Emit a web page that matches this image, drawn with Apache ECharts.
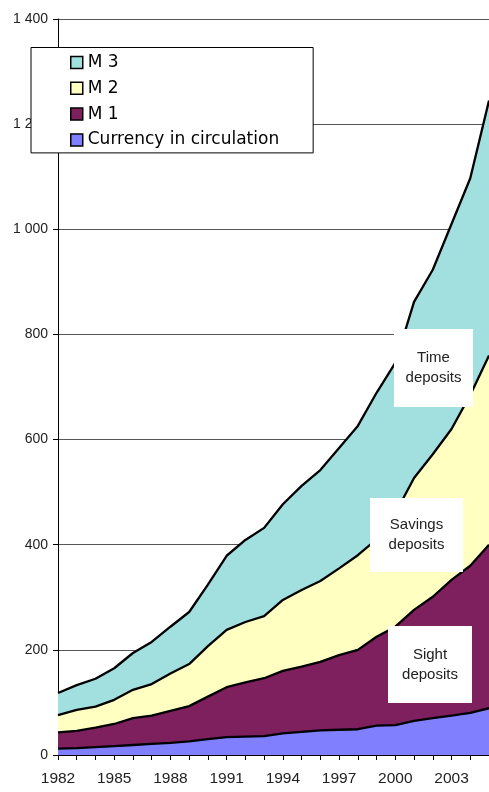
<!DOCTYPE html>
<html>
<head>
<meta charset="utf-8">
<script src="https://cdn.jsdelivr.net/npm/echarts@6/dist/echarts.min.js"></script>
<style>
html,body{margin:0;padding:0;background:#fff;}
#chart{width:489px;height:792px;}
</style>
</head>
<body>
<div id="chart"></div>
<script>
const years = ['1982','1983','1984','1985','1986','1987','1988','1989','1990','1991','1992','1993','1994','1995','1996','1997','1998','1999','2000','2001','2002','2003','2004','2005'];
const currency = [12,13,15,17,19,21,23,26,30,34,35,36,41,44,47,48,49,56,57,65,70,75,80,89];
const m1 = [43,46,52,59,70,75,84,93,111,129,138,146,160,168,177,190,200,225,244,276,301,333,360,400];
const m2 = [76,86,92,105,124,135,155,173,207,238,253,264,295,314,331,355,380,410,460,527,572,620,685,760];
const m3 = [118,133,145,165,194,215,244,272,324,379,409,432,477,512,542,584,626,689,746,862,923,1010,1097,1245];
const seriesNames = ['M 3','M 2','M 1','Currency in circulation'];
const annotations = [
  {text:'Time\ndeposits', box:[394,329,79,78]},
  {text:'Savings\ndeposits', box:[370,498,93,74]},
  {text:'Sight\ndeposits', box:[388,626,84,77]}
];

const colors = ['#A2E0E0','#FFFFC2','#7E1F5E','#8080FF'];
const values = [m3, m2, m1, currency];

const chart = echarts.init(document.getElementById('chart'), null, {renderer:'canvas'});

const series = seriesNames.map((n,i)=>({
  name:n,
  type:'line',
  data:values[i],
  showSymbol:false,
  symbol:'none',
  z:2+i,
  itemStyle:{color:colors[i]},
  lineStyle:{color:'#000',width:2.3},
  areaStyle:{color:colors[i],opacity:1,origin:'start'},
  emphasis:{disabled:true},
  animation:false
}));

const graphic = [];
annotations.forEach(a=>{
  graphic.push({type:'rect',shape:{x:a.box[0],y:a.box[1],width:a.box[2],height:a.box[3]},style:{fill:'#fff'},z:100});
  graphic.push({type:'text',x:a.box[0]+a.box[2]/2,y:a.box[1]+a.box[3]/2,z:101,
    style:{text:a.text,fill:'#222',font:'15px "Liberation Sans", Arial, sans-serif',align:'center',verticalAlign:'middle',lineHeight:20}});
});

chart.setOption({
  animation:false,
  backgroundColor:'#fff',
  grid:{left:58,right:0,top:19,bottom:37,containLabel:false},
  legend:{
    data:seriesNames,
    orient:'vertical',
    left:31,top:47.5,
    backgroundColor:'#fff',
    borderColor:'#000',borderWidth:1,
    padding:[6.5,34,4.5,39],
    itemGap:8.8,
    icon:'rect',
    itemWidth:12,itemHeight:12,
    itemStyle:{borderColor:'#000',borderWidth:1.5},
    textStyle:{fontFamily:'DejaVu Sans',fontSize:17,color:'#000',padding:[0,0,0,0]},
    z:50
  },
  xAxis:{
    type:'category',
    data:years,
    boundaryGap:false,
    axisLine:{lineStyle:{color:'#000',width:1}},
    axisTick:{show:true,interval:0,length:5,lineStyle:{color:'#000'}},
    axisLabel:{interval:2,margin:16,fontFamily:'Liberation Sans',fontSize:15.5,color:'#222'},
    splitLine:{show:false}
  },
  yAxis:{
    type:'value',
    min:0,max:1400,interval:200,
    axisLine:{show:true,lineStyle:{color:'#000',width:1}},
    axisTick:{show:true,length:5,lineStyle:{color:'#000'}},
    axisLabel:{margin:10,fontFamily:'Liberation Sans',fontSize:14,color:'#222',
      formatter:v=>String(v).replace(/\B(?=(\d{3})+$)/g,' ')},
    splitLine:{show:true,lineStyle:{color:'#555',width:1}}
  },
  series:series,
  graphic:graphic
});
</script>
</body>
</html>
